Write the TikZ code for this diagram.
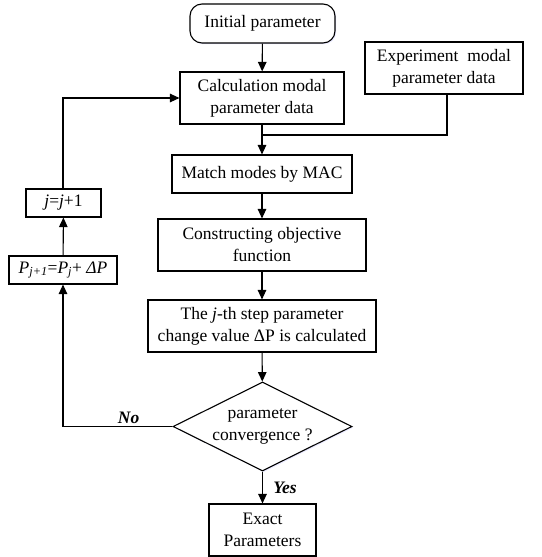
\documentclass[tikz,border=0pt]{standalone}
\usepackage{fontspec}
\setmainfont{Liberation Serif}
\usetikzlibrary{arrows.meta,shapes.geometric,shadows}
\begin{document}
\begin{tikzpicture}[x=1pt,y=-1pt,
  font=\fontsize{17.5}{22}\selectfont,
  shad/.style={drop shadow={opacity=0.35,fill=blue!25,shadow xshift=1.2pt,shadow yshift=-1.2pt}},
  box/.style={draw,line width=1.1pt,fill=white,shad,inner sep=1pt,align=center},
  arr/.style={line width=1.1pt,-{Triangle[length=9.5pt,width=8.5pt]}},
  ln/.style={line width=1.1pt},
  lbl/.style={font=\fontsize{17.5}{20}\selectfont\bfseries\itshape}]
\useasboundingbox (0,0) rectangle (541,557);
\node[box,rounded corners=12pt,minimum width=145pt,minimum height=39pt] (init) at (262.5,23.5) {Initial parameter};
\node[box,minimum width=164pt,minimum height=52pt] (calc) at (262,98) {Calculation modal\\parameter data};
\node[box,minimum width=158pt,minimum height=52pt] (exp) at (444,68) {Experiment\ \ modal\\parameter data};
\node[box,minimum width=180pt,minimum height=38pt] (mac) at (262,174) {Match modes by MAC};
\node[box,minimum width=208pt,minimum height=52pt] (obj) at (262,245) {Constructing objective\\function};
\node[box,minimum width=228pt,minimum height=52pt] (step) at (262,326) {The \textit{j}-th step parameter\\change value ΔP is calculated};
\node[draw,line width=1.1pt,fill=white,shad,diamond,aspect=2,minimum width=179pt,minimum height=89pt,inner sep=0pt,align=center] (dia) at (262.5,426.5) {parameter\\convergence ?};
\node[box,minimum width=107pt,minimum height=52pt] (exact) at (262.5,530) {Exact\\Parameters};
\node[box,minimum width=108pt,minimum height=28pt] (pbox) at (63,270) {\textit{P}\textsubscript{\textit{j+1}}=\textit{P}\textsubscript{\textit{j}}+ \textit{ΔP}};
\node[box,minimum width=75pt,minimum height=28pt] (jbox) at (63.5,203) {\textit{j}=\textit{j}+1};
\coordinate (jn) at (263,135);
\draw[arr] (init) -- (calc);
\draw[arr] (calc) -- (mac);
\draw[ln] (exp.south -| 447,0) |- (jn);
\draw[arr] (mac) -- (obj);
\draw[arr] (obj) -- (step);
\draw[arr] (step) -- (dia);
\draw[arr] (dia) -- node[lbl,right=7pt,pos=0.5]{Yes} (exact);
\draw[arr] (dia.west) -| node[lbl,above=-1pt,pos=0.2]{No} (pbox.south -| 63,0);
\draw[arr] (pbox) -- (jbox);
\draw[arr] (jbox.north -| 63,0) |- (calc.west);
\end{tikzpicture}
\end{document}
